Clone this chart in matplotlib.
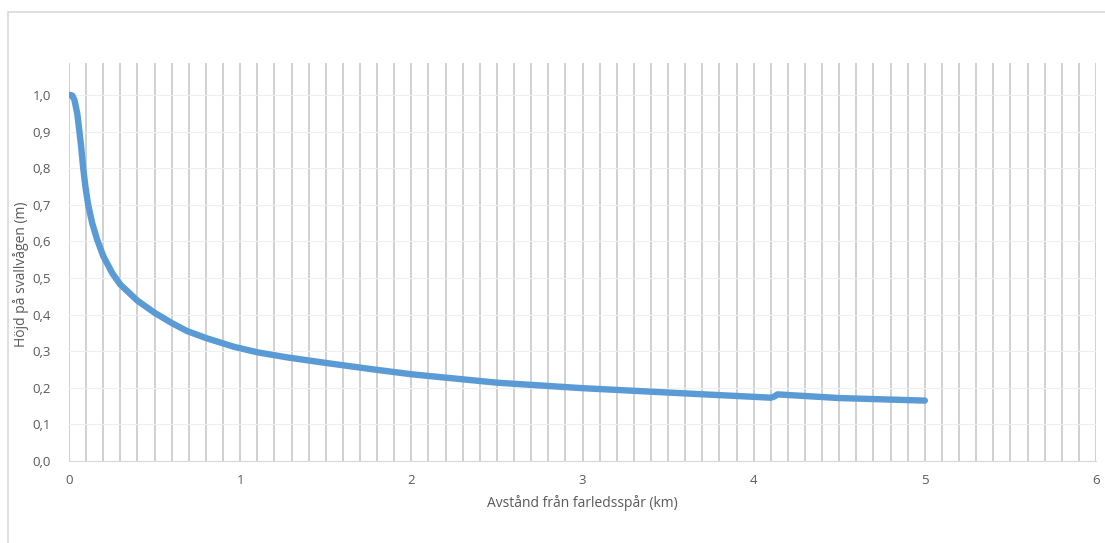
import numpy as np
from matplotlib import pyplot as plt
from matplotlib.patches import Rectangle
from matplotlib.ticker import MultipleLocator

# distance (km) and wave height (m)
avstand = [0.0, 0.01, 0.02, 0.032, 0.048, 0.06, 0.071, 0.083, 0.096, 0.112, 0.136,
           0.165, 0.2, 0.253, 0.3, 0.4, 0.5, 0.6, 0.69, 0.8, 0.964, 1.1, 1.276, 1.5,
           1.75, 2.0, 2.5, 3.0, 3.5, 4.1, 4.12, 4.14, 4.5, 5.0]
hojd = [1.0, 1.0, 0.998, 0.986, 0.95, 0.904, 0.859, 0.80, 0.749, 0.70, 0.649,
        0.604, 0.56, 0.513, 0.482, 0.438, 0.405, 0.377, 0.355, 0.336, 0.312, 0.297,
        0.283, 0.268, 0.252, 0.237, 0.214, 0.199, 0.187, 0.173, 0.176, 0.182, 0.172,
        0.165]

y_ticks = [0.0, 0.1, 0.2, 0.3, 0.4, 0.5, 0.6, 0.7, 0.8, 0.9, 1.0]
y_labels = ["0,0", "0,1", "0,2", "0,3", "0,4", "0,5", "0,6", "0,7", "0,8", "0,9", "1,0"]
x_ticks = [0, 1, 2, 3, 4, 5, 6]

plt.rcParams["font.family"] = ["Open Sans", "DejaVu Sans"]
txt = "#595959"

fig = plt.figure(figsize=(11.05, 5.43), dpi=100)
ax = fig.add_axes([69 / 1105, 1 - 461 / 543, (1096 - 69) / 1105, (461 - 63) / 543])

# outer chart border (cut at right and bottom like the screenshot)
fig.patches.append(Rectangle((8 / 1105, -0.1), 1.2, 1.1 - 12 / 543, transform=fig.transFigure,
                             fill=False, edgecolor="#d9d9d9", linewidth=1.2))

ax.plot(avstand, hojd, color="#5b9bd5", linewidth=4.6, solid_capstyle="round",
        solid_joinstyle="round", zorder=3)

ax.set_xlim(0, 6)
ax.set_ylim(0, 398 / 366)
ax.set_xticks(x_ticks)
ax.set_xticklabels([str(v) for v in x_ticks])
ax.xaxis.set_minor_locator(MultipleLocator(0.1))
ax.set_yticks(y_ticks)
ax.set_yticklabels(y_labels)

ax.grid(True, axis="x", which="both", color="#d0d0d0", linewidth=1.4)
ax.grid(True, axis="y", which="major", color="#efefef", linewidth=0.8)
ax.set_axisbelow(True)

for s in ["top", "right", "left"]:
    ax.spines[s].set_visible(False)
ax.spines["bottom"].set_color("#d9d9d9")

ax.tick_params(axis="both", which="both", length=0, colors=txt, labelsize=9.5)
ax.tick_params(axis="y", pad=13)
ax.tick_params(axis="x", pad=9)

ax.set_xlabel("Avstånd från farledsspår (km)", color=txt, fontsize=10, labelpad=6)
ax.set_ylabel("Höjd på svallvågen (m)", color=txt, fontsize=10)
ax.yaxis.set_label_coords(-40 / 1027, 0.5 - 12 / 398)

fig.savefig("out.png", dpi=100)
